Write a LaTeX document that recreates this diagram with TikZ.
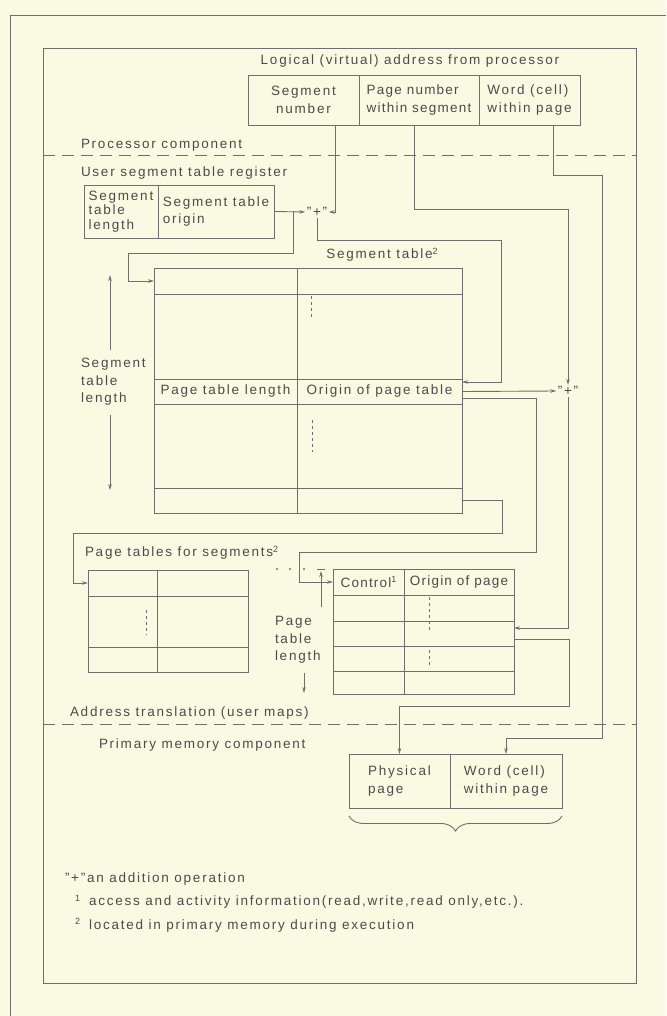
\documentclass[tikz,border=0pt]{standalone}
\usepackage{fontspec}
\setmainfont{Liberation Sans}[LetterSpace=13]
\usetikzlibrary{arrows.meta,decorations.pathreplacing}
\definecolor{bgc}{RGB}{250,250,226}
\definecolor{lnc}{RGB}{110,110,110}
\definecolor{txc}{RGB}{75,75,75}
\newcommand{\mysup}[1]{\raisebox{4.5pt}{\fontsize{9}{9}\selectfont #1}}
\begin{document}
\begin{tikzpicture}[x=1pt,y=-1pt,
  every node/.style={text=txc,font=\fontsize{13.5}{17.5}\selectfont,inner sep=0pt,outer sep=0pt},
  cell/.style 2 args={draw=lnc,line width=0.9pt,minimum width=#1pt,minimum height=#2pt},
  wire/.style={draw=lnc,line width=0.9pt},
  arr/.style={wire,-{Stealth[length=6pt,width=3.5pt]}},
  sepline/.style={draw=lnc,line width=0.9pt,dash pattern=on 12pt off 7pt},
  dotline/.style={draw=lnc,line width=0.9pt,dash pattern=on 3pt off 3pt},
  plusnode/.style={inner sep=1.5pt},
  lbl/.style={anchor=west,align=left},
  tight/.style={font=\fontsize{13.5}{17.5}\selectfont\addfontfeatures{LetterSpace=9}},
]
\fill[bgc] (0,0) rectangle (666,1016);
\useasboundingbox (0,0) rectangle (666,1016);
% frames
\draw[wire] (10,1016) -- (10,15) -- (666,15);
\draw[wire] (43,48) rectangle (636,983);

% logical address
\node (logical) at (410,61) {Logical (virtual) address from processor};
\node[cell={111}{50},align=center] (segnum) at (303.5,100) {Segment\\number};
\node[cell={120}{50},align=left,tight] (pgnum) at (419,100) {Page number\\within segment};
\node[cell={101}{50},align=left] (wordc) at (529.5,100) {Word (cell)\\within page};

\node[lbl] (proc) at (81,145) {Processor component};
\draw[sepline] (43,155) -- (636,155);
\node[lbl] (usr) at (81,173) {User segment table register};

% register
\node[cell={74}{53},align=left,font=\fontsize{13.5}{14.5}\selectfont] (regL) at (121,211.5) {Segment\\table\\length};
\node[cell={116}{53},align=left] (regR) at (216,211.5) {Segment table\\origin};
\node[plusnode] (plus1) at (317,212) {"+"};

% segment table
\node (sttitle) at (382,255) {Segment table\mysup{2}};
\node[cell={143}{26}] (st1a) at (225.5,281) {};
\node[cell={165}{26}] (st1b) at (379.5,281) {};
\node[cell={143}{85}] (st2a) at (225.5,336.5) {};
\node[cell={165}{85}] (st2b) at (379.5,336.5) {};
\node[cell={143}{25}] (st3a) at (225.5,391.5) {Page table length};
\node[cell={165}{25}] (st3b) at (379.5,391.5) {Origin of page table};
\node[cell={143}{84}] (st4a) at (225.5,446) {};
\node[cell={165}{84}] (st4b) at (379.5,446) {};
\node[cell={143}{25}] (st5a) at (225.5,500.5) {};
\node[cell={165}{25}] (st5b) at (379.5,500.5) {};
\draw[dotline] (311,296) -- (311,318);
\draw[dotline] (312,420) -- (312,452);

\node[lbl] (stlen) at (81,382) {Segment\\table\\length};
\draw[arr] (110,350) -- (110,275);
\draw[arr] (110,415) -- (110,490);

\node[plusnode] (plus2) at (568,391) {"+"};

% page tables
\node[lbl] (ptlabel) at (85,553) {Page tables for segments\mysup{2}};
\node[cell={69}{26}] (lp1a) at (122.5,583) {};
\node[cell={91}{26}] (lp1b) at (202.5,583) {};
\node[cell={69}{51}] (lp2a) at (122.5,621.5) {};
\node[cell={91}{51}] (lp2b) at (202.5,621.5) {};
\node[cell={69}{25}] (lp3a) at (122.5,659.5) {};
\node[cell={91}{25}] (lp3b) at (202.5,659.5) {};
\draw[dotline] (146,610) -- (146,635);

\fill[lnc] (277,569) circle (1.1);
\fill[lnc] (290,569) circle (1.1);
\fill[lnc] (304,569) circle (1.1);

\node[cell={71}{26},tight] (rp1a) at (368.5,582) {Control\mysup{1}};
\node[cell={110}{26},tight] (rp1b) at (459,582) {Origin of page};
\node[cell={71}{26}] (rp2a) at (368.5,608) {};
\node[cell={110}{26}] (rp2b) at (459,608) {};
\node[cell={71}{25}] (rp3a) at (368.5,633.5) {};
\node[cell={110}{25}] (rp3b) at (459,633.5) {};
\node[cell={71}{25}] (rp4a) at (368.5,658.5) {};
\node[cell={110}{25}] (rp4b) at (459,658.5) {};
\node[cell={71}{23}] (rp5a) at (368.5,682.5) {};
\node[cell={110}{23}] (rp5b) at (459,682.5) {};
\draw[dotline] (429,597) -- (429,630);
\draw[dotline] (429,650) -- (429,667);

\node[lbl] (ptlen) at (275,640) {Page\\table\\length};
\draw[arr] (321,607) -- (321,571);
\draw[wire] (317,569.5) -- (325,569.5);
\draw[arr] (304,673) -- (304,693);

% lower section
\node[lbl] (atl) at (70,713) {Address translation (user maps)};
\draw[sepline] (43,724) -- (636,724);
\node[lbl] (pmc) at (99,745) {Primary memory component};
\node[cell={101}{54},align=left] (phys) at (399.5,781) {Physical\\page};
\node[cell={112}{54},align=left] (wpage) at (506,781) {Word (cell)\\within page};
\draw[wire,decorate,decoration={brace,mirror,amplitude=15pt}] ([yshift=-8pt]phys.south west) -- ([yshift=-8pt]wpage.south east);

% connectors
\coordinate (j1) at (293,211.5);
\draw[arr] (regR.east) -- (plus1.west);
\draw[arr] ([xshift=31.5pt]segnum.south) |- (plus1.east);
\draw[arr] (j1) |- (128,253) |- (st1a.west);
\draw[arr] ([xshift=-5pt]pgnum.south) |- (568,209) -- (plus2.north);
\draw[arr] (plus1.south) |- (501,240) |- ([yshift=9.5pt]st3b.east);
\draw[arr] (st3b.east) -- (plus2.west);
\draw[arr] ([yshift=-6.5pt]st3b.east) -| (536,552) -| (299,582) -- (rp1a.west);
\draw[arr] (st5b.east) -| (502,533) -| (73,583) -- (lp1a.west);
\draw[arr] (plus2.south) |- ([yshift=5.5pt]rp3b.east);
\draw[arr] ([yshift=-5.5pt]rp3b.east) -| (569,706) -| (phys.north);
\draw[arr] ([xshift=23.5pt]wordc.south) |- (602,175) |- ([yshift=16pt]wpage.north) -- (wpage.north);

% footnotes
\node[lbl] (fn0) at (65,879) {"+"an addition operation};
\node[lbl] (fn1) at (75,902) {\mysup{1}\hspace{9pt}access and activity information(read,write,read only,etc.).};
\node[lbl] (fn2) at (75,925) {\mysup{2}\hspace{9pt}located in primary memory during execution};
\end{tikzpicture}
\end{document}
